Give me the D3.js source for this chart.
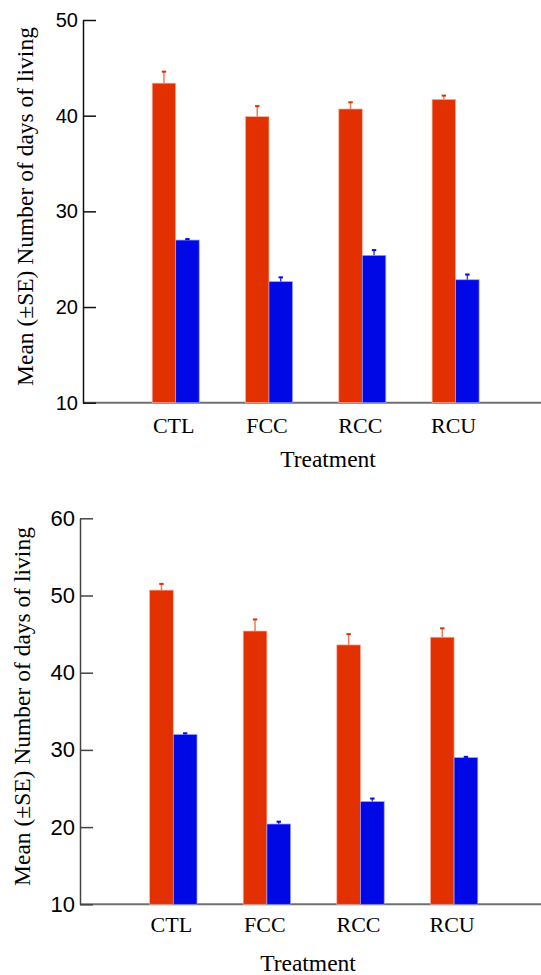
<!DOCTYPE html>
<html>
<head>
<meta charset="utf-8">
<script src="https://cdn.jsdelivr.net/npm/d3@7"></script>
<style>
  body { margin: 0; background: #fff; }
  svg { display: block; }
</style>
</head>
<body>
<div id="chart"></div>
<script>
// treatments on the x axis
var treatments = ["CTL", "FCC", "RCC", "RCU"];

// upper panel values (mean and SE)
var topRed = [43.4, 39.9, 40.7, 41.7];
var topRedSE = [1.2, 1.1, 0.7, 0.4];
var topBlue = [27.0, 22.65, 25.4, 22.85];
var topBlueSE = [0.1, 0.45, 0.55, 0.55];
var topTicks = [10, 20, 30, 40, 50];

// lower panel values (mean and SE)
var botRed = [50.7, 45.4, 43.6, 44.6];
var botRedSE = [0.8, 1.5, 1.4, 1.15];
var botBlue = [32.0, 20.4, 23.3, 29.0];
var botBlueSE = [0.15, 0.3, 0.4, 0.1];
var botTicks = [10, 20, 30, 40, 50, 60];

var yTitle = "Mean (\u00B1SE) Number of days of living";
var xTitle = "Treatment";

var svgWidth = 541;
var svgHeight = 975;

var svg = d3.select("#chart")
  .append("svg")
  .attr("width", svgWidth)
  .attr("height", svgHeight);

var redColor = "#e33000";
var blueColor = "#0008e6";

function drawPanel(opt) {
  var g = svg.append("g");

  var yScale = d3.scaleLinear()
    .domain([opt.ticks[0], opt.ticks[opt.ticks.length - 1]])
    .range([opt.yBottom, opt.yTop]);

  var xScale = d3.scaleBand()
    .domain(treatments)
    .range([opt.firstCenter - opt.step / 2, opt.firstCenter - opt.step / 2 + opt.step * treatments.length])
    .padding(0);

  var xSub = d3.scaleBand()
    .domain(["red", "blue"])
    .range([0, xScale.bandwidth()])
    .paddingInner(0)
    .paddingOuter(opt.subPad);

  // rows for the bars
  var rows = [];
  treatments.forEach(function(t, i) {
    rows.push({ t: t, s: "red", v: opt.red[i], se: opt.redSE[i] });
    rows.push({ t: t, s: "blue", v: opt.blue[i], se: opt.blueSE[i] });
  });

  // x axis line across the panel
  g.append("line")
    .attr("x1", opt.axisX)
    .attr("x2", svgWidth)
    .attr("y1", yScale(opt.ticks[0]))
    .attr("y2", yScale(opt.ticks[0]))
    .attr("stroke", "#707070")
    .attr("stroke-width", 2);

  // bars
  g.selectAll("rect.bar")
    .data(rows)
    .enter()
    .append("rect")
    .attr("class", "bar")
    .attr("x", function(d) { return xScale(d.t) + xSub(d.s); })
    .attr("width", xSub.bandwidth())
    .attr("y", function(d) { return yScale(d.v); })
    .attr("height", function(d) { return yScale(opt.ticks[0]) - yScale(d.v); })
    .attr("fill", function(d) { return d.s == "red" ? redColor : blueColor; })
    .attr("stroke", function(d) { return d.s == "red" ? "#f5b3a3" : "#9aa0f5"; })
    .attr("stroke-width", 0.7);

  // error bars, upper part only
  g.selectAll("line.err")
    .data(rows)
    .enter()
    .append("line")
    .attr("class", "err")
    .attr("x1", function(d) { return xScale(d.t) + xSub(d.s) + xSub.bandwidth() / 2; })
    .attr("x2", function(d) { return xScale(d.t) + xSub(d.s) + xSub.bandwidth() / 2; })
    .attr("y1", function(d) { return yScale(d.v); })
    .attr("y2", function(d) { return yScale(d.v + d.se); })
    .attr("stroke", function(d) { return d.s == "red" ? "#f07a5c" : "#3a40f0"; })
    .attr("stroke-width", 1.5);

  g.selectAll("line.cap")
    .data(rows)
    .enter()
    .append("line")
    .attr("class", "cap")
    .attr("x1", function(d) { return xScale(d.t) + xSub(d.s) + xSub.bandwidth() / 2 - 2.2; })
    .attr("x2", function(d) { return xScale(d.t) + xSub(d.s) + xSub.bandwidth() / 2 + 2.2; })
    .attr("y1", function(d) { return yScale(d.v + d.se); })
    .attr("y2", function(d) { return yScale(d.v + d.se); })
    .attr("stroke", function(d) { return d.s == "red" ? redColor : blueColor; })
    .attr("stroke-width", 2);

  // y axis with inward ticks
  var yAxis = d3.axisLeft(yScale)
    .tickValues(opt.ticks)
    .tickSizeInner(-13)
    .tickSizeOuter(0)
    .tickPadding(5)
    .tickFormat(d3.format("d"));

  var yg = g.append("g")
    .attr("transform", "translate(" + opt.axisX + ",0)")
    .call(yAxis);
  yg.select(".domain").attr("stroke", opt.axisColor).attr("stroke-width", 1.5);
  yg.selectAll(".tick line").attr("stroke", opt.axisColor).attr("stroke-width", 1.5);
  yg.selectAll(".tick text")
    .attr("font-family", "Liberation Sans, Arial, sans-serif")
    .attr("font-size", opt.tickFont + "px")
    .attr("fill", "#000");

  // category labels
  var xAxis = d3.axisBottom(xScale).tickSize(0).tickPadding(0);
  var xg = g.append("g")
    .attr("transform", "translate(-2," + opt.labelY + ")")
    .call(xAxis);
  xg.select(".domain").remove();
  xg.selectAll(".tick text")
    .attr("dy", 0)
    .attr("y", 0)
    .attr("font-family", "Liberation Serif, Times New Roman, serif")
    .attr("font-size", "22px")
    .attr("fill", "#000");

  // axis titles
  g.append("text")
    .attr("x", opt.xTitleX)
    .attr("y", opt.xTitleY)
    .attr("text-anchor", "middle")
    .attr("font-family", "Liberation Serif, Times New Roman, serif")
    .attr("font-size", "23.5px")
    .text(xTitle);

  g.append("text")
    .attr("transform", "translate(" + opt.yTitleX + "," + opt.yTitleY + ") rotate(-90)")
    .attr("text-anchor", "middle")
    .attr("font-family", "Liberation Serif, Times New Roman, serif")
    .attr("font-size", "23.5px")
    .text(yTitle);
}

drawPanel({
  ticks: topTicks, red: topRed, redSE: topRedSE, blue: topBlue, blueSE: topBlueSE,
  yTop: 20, yBottom: 402.7, axisX: 83, firstCenter: 175.7, step: 93.3, subPad: 0.985,
  axisColor: "#111", tickFont: 20, labelY: 432.5,
  xTitleX: 328, xTitleY: 466.5, yTitleX: 33, yTitleY: 206.5
});

drawPanel({
  ticks: botTicks, red: botRed, redSE: botRedSE, blue: botBlue, blueSE: botBlueSE,
  yTop: 518.3, yBottom: 904.3, axisX: 80, firstCenter: 173.3, step: 93.6, subPad: 0.975,
  axisColor: "#444", tickFont: 22, labelY: 932,
  xTitleX: 308, xTitleY: 970.5, yTitleX: 29.5, yTitleY: 706.5
});
</script>
</body>
</html>
